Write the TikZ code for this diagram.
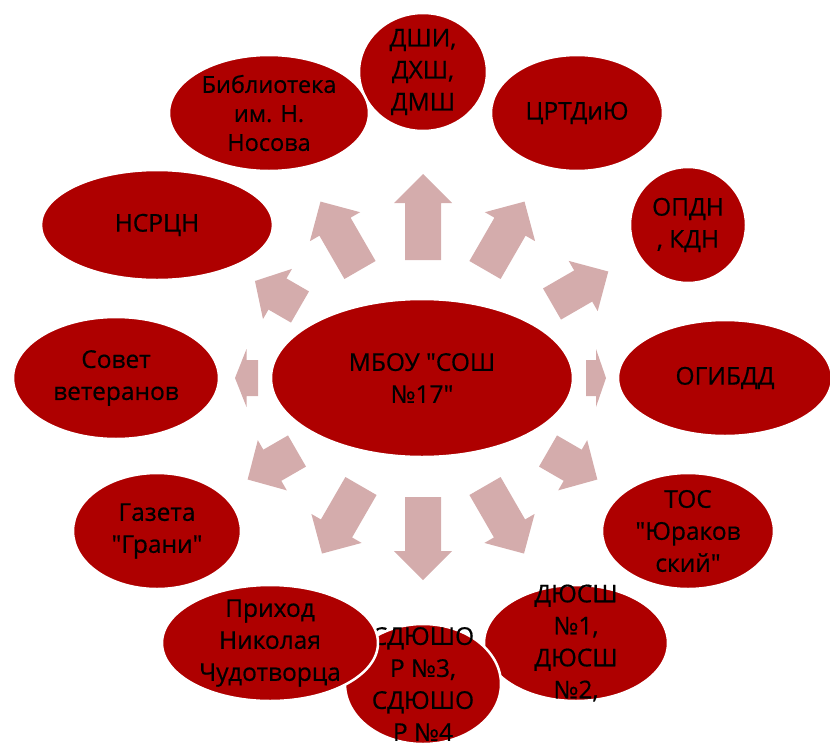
\documentclass[tikz,border=0pt]{standalone}
\usepackage{fontspec}
\setmainfont{Open Sans}[Ligatures=TeXOff, FakeBold=0.6]
\usetikzlibrary{shapes.geometric}
\definecolor{bubblered}{RGB}{174,0,0}
\definecolor{arrowpink}{RGB}{212,172,172}
\newcommand\radarrow[4]{%
  \pgfmathsetmacro\hl{0.5*min(#4,58)}%
  \pgfmathsetmacro\hb{#4-\hl}%
  \begin{scope}[shift={(#1,#2)},rotate=#3]
    \fill[arrowpink] (0,-18) -- (\hb,-18) -- (\hb,-29) -- (#4,0) -- (\hb,29) -- (\hb,18) -- (0,18) -- cycle;
  \end{scope}}
\tikzset{
  bubble/.style={ellipse, fill=bubblered, draw=white, line width=2.5pt, inner sep=0pt},
  txt/.style={align=center, inner sep=0pt, text=black, font=\fontsize{24.5}{32}\selectfont},
  smalltxt/.style={txt, font=\fontsize{23.5}{29}\selectfont}
}
\begin{document}
\begin{tikzpicture}[x=1pt,y=-1pt]
\useasboundingbox (0,0) rectangle (830,742);
% radial arrows
\radarrow{423}{260}{90}{86}
\radarrow{485}{270}{60}{79}
\radarrow{552}{304}{30}{65}
\radarrow{586}{378}{0}{20}
\radarrow{548}{451}{-30}{57}
\radarrow{485}{486}{-60}{78}
\radarrow{423}{497}{-90}{83}
\radarrow{361}{486}{-120}{78}
\radarrow{297}{451}{-150}{57}
\radarrow{258}{378}{180}{23}
\radarrow{300}{307}{150}{52}
\radarrow{360}{270}{120}{79}
% centre
\node[bubble, minimum width=302pt, minimum height=158pt] (center) at (422,378) {};
\node[txt] (center-t) at (center) {МБОУ "СОШ\\№17"};
% outer nodes
\node[bubble, minimum width=128pt, minimum height=118pt] (dshi) at (423,72) {};
\node[txt] (dshi-t) at (dshi) {ДШИ,\\ДХШ,\\ДМШ};
\node[bubble, minimum width=172pt, minimum height=116pt] (crtd) at (577,113) {};
\node[txt] (crtd-t) at (crtd) {ЦРТДиЮ};
\node[bubble, minimum width=116pt, minimum height=116pt] (opdn) at (688,225) {};
\node[txt] (opdn-t) at (opdn) {ОПДН\\, КДН};
\node[bubble, minimum width=214pt, minimum height=116pt] (ogibdd) at (725,378) {};
\node[txt] (ogibdd-t) at (ogibdd) {ОГИБДД};
\node[bubble, minimum width=172pt, minimum height=116pt] (tos) at (688,531) {};
\node[txt] (tos-t) at (tos) {ТОС\\"Юраков\\ский"};
\node[bubble, minimum width=184pt, minimum height=116pt] (dyussh) at (576,643) {};
\node[txt] (dyussh-t) at (dyussh) {ДЮСШ\\№1,\\ДЮСШ\\№2,};
\node[bubble, minimum width=156pt, minimum height=120pt] (sdyu) at (423,684) {};
\node[txt] (sdyu-t) at (sdyu) {СДЮШО\\Р №3,\\СДЮШО\\Р №4};
\node[bubble, minimum width=216pt, minimum height=116pt] (prihod) at (270,643) {};
\node[txt] (prihod-t) at (prihod) {Приход\\Николая\\Чудотворца};
\node[bubble, minimum width=168pt, minimum height=116pt] (gazeta) at (157,531) {};
\node[txt] (gazeta-t) at (gazeta) {Газета\\"Грани"};
\node[bubble, minimum width=206pt, minimum height=122pt] (sovet) at (116,378) {};
\node[txt] (sovet-t) at (sovet) {Совет\\ветеранов};
\node[bubble, minimum width=232pt, minimum height=110pt] (nsrcn) at (157,225) {};
\node[txt] (nsrcn-t) at (nsrcn) {НСРЦН};
\node[bubble, minimum width=200pt, minimum height=116pt] (bibl) at (269,113) {};
\node[smalltxt] (bibl-t) at (bibl) {Библиотека\\им. Н.\\Носова};
\end{tikzpicture}
\end{document}
